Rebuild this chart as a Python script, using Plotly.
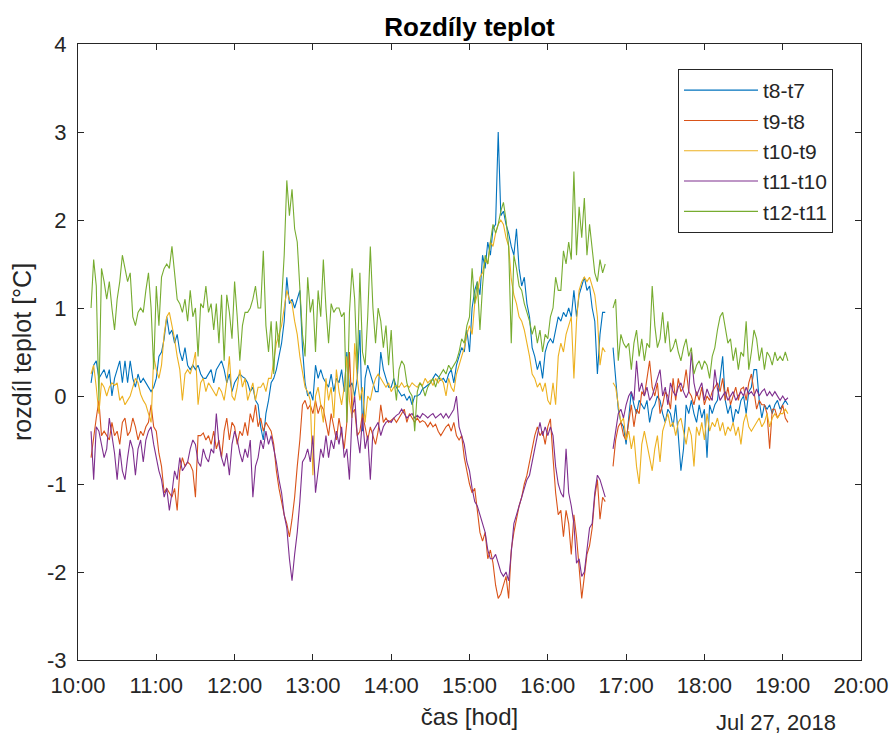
import plotly.graph_objects as go
import pandas as pd

# ---------------- data (minutes after 10:00, 2-minute sampling) ----------------
day = "2018-07-27"
minutes_a = list(range(10, 405, 2))    # 10:10 .. 16:44
minutes_b = list(range(410, 545, 2))   # 16:50 .. 19:04
gap_minute = 407                       # logger outage (no data)

series_names = ["t8-t7", "t9-t8", "t10-t9", "t11-t10", "t12-t11"]
series_colors = ["#0072BD", "#D95319", "#EDB120", "#7E2F8E", "#77AC30"]

t8_t7_a = [0.15, 0.35, 0.4, 0.2, 0.25, 0.3, 0.2, 0.3, 0.0, 0.2,
           0.3, 0.4, 0.15, 0.4, 0.15, 0.4, 0.2, 0.1, 0.25, 0.15,
           0.2, 0.15, 0.1, 0.05, 0.1, 0.2, 0.45, 0.5, 0.65, 0.9,
           0.7, 0.75, 0.6, 0.7, 0.5, 0.4, 0.55, 0.35, 0.3, 0.35,
           0.3, 0.35, 0.25, 0.2, 0.2, 0.25, 0.3, 0.15, 0.3, 0.35,
           0.4, 0.3, 0.15, 0.25, 0.05, 0.15, 0.2, 0.25, 0.22, 0.2,
           0.15, 0.05, 0.1, -0.05, -0.1, -0.35, -0.5, -0.2, -0.05, 0.15,
           0.2, 0.3, 0.45, 0.6, 0.85, 1.35, 1.05, 1.1, 1.0, 1.1,
           1.2, 0.55, 0.15, 0.0, 0.05, -0.05, 0.35, 0.2, 0.3, 0.2,
           0.15, 0.1, 0.25, 0.05, 0.2, 0.15, 0.3, 0.05, 0.5, 0.1,
           0.15, 0.0, 0.2, 0.75, -0.4, 0.2, 0.35, 0.25, 0.15, 0.05,
           0.05, 0.5, 0.3, 0.2, 0.1, 0.1, 0.2, 0.1, 0.05, 0.0,
           0.02, -0.05, 0.0, -0.1, 0.0, 0.0, 0.02, 0.08, 0.1, 0.12,
           0.15, 0.2, 0.25, 0.22, 0.18, 0.2, 0.15, 0.25, 0.3, 0.15,
           0.35, 0.45, 0.55, 0.5, 0.75, 0.5, 1.0, 1.2, 1.3, 1.15,
           1.6, 1.45, 1.75, 1.6, 1.9, 1.95, 3.0, 2.05, 2.1, 1.95,
           1.85, 1.7, 1.6, 1.9, 1.45, 1.25, 1.35, 1.05, 0.9, 0.55,
           0.45, 0.3, 0.4, 0.2, 0.5, 0.6, 0.65, 0.6, 0.75, 0.9,
           0.85, 0.95, 0.9, 1.0, 0.9, 1.2, 0.9, 1.15, 1.25, 1.35,
           1.2, 1.25, 1.0, 0.85, 0.25, 0.7, 0.95, 0.95]
t8_t7_b = [0.55, 0.2, -0.15, -0.3, -0.35, -0.55, -0.25, 0.05, -0.1, -0.2,
           -0.05, -0.1, -0.15, -0.05, -0.3, -0.15, -0.1, 0.0, -0.05, -0.2,
           -0.3, -0.15, -0.2, -0.35, -0.1, -0.45, -0.85, -0.6, -0.1, -0.2,
           -0.05, -0.2, -0.3, -0.1, -0.25, -0.15, -0.7, -0.1, -0.2, -0.1,
           -0.05, 0.2, 0.45, -0.05, -0.2, -0.1, -0.3, -0.15, -0.2, -0.05,
           0.0, -0.2, 0.05, 0.1, 0.3, 0.3, -0.05, -0.25, -0.1, -0.15,
           -0.1, -0.2, -0.1, -0.05, -0.15, -0.1, -0.05, -0.1]

t9_t8_a = [-0.7, -0.45, -0.25, -0.05, -0.45, -0.4, -0.45, -0.5, -0.3, -0.45,
           -0.4, -0.55, -0.3, -0.25, -0.45, -0.4, -0.25, -0.35, -0.5, -0.4,
           -0.45, -0.35, -0.3, -0.1, -0.35, -0.4, -0.65, -0.8, -1.1, -1.05,
           -1.1, -1.15, -1.05, -1.3, -0.85, -0.7, -0.8, -0.75, -0.78, -0.85,
           -1.15, -0.45, -0.45, -0.42, -0.5, -0.45, -0.55, -0.4, -0.6, -0.5,
           -0.7, -0.4, -0.25, -0.5, -0.3, -0.35, -0.55, -0.4, -0.45, -0.3,
           -0.45, -0.2, -0.3, -0.1, -0.35, -0.25, -0.4, -0.3, -0.35, -0.4,
           -0.55, -0.85, -1.05, -1.2, -1.35, -1.45, -1.6, -1.4, -1.15, -0.8,
           -0.5, -0.1, -0.05, -0.15, -0.1, -0.2, -0.05, -0.2, -0.1, -0.15,
           -0.3, -0.45, -0.2, -0.35, -0.5, -0.25, -0.45, -0.6, -0.3, 0.5,
           -0.2, -0.15, -0.45, -0.4, -0.2, -0.35, -0.5, -0.35, -0.45, -0.55,
           -0.4, -0.1, -0.3, -0.25, -0.3, -0.28, -0.25, -0.3, -0.25, -0.2,
           -0.15, -0.3, -0.2, -0.25, -0.3, -0.25, -0.3, -0.28, -0.3, -0.35,
           -0.3, -0.35, -0.32, -0.4, -0.45, -0.4, -0.35, -0.32, -0.4, -0.3,
           -0.45, -0.5, -0.45, -0.7, -0.85, -1.0, -1.1, -1.05, -1.3, -1.55,
           -1.65, -1.55, -1.85, -1.75, -1.9, -2.15, -2.3, -2.25, -2.15, -2.05,
           -2.3, -1.75, -1.55, -1.4, -1.25, -1.15, -1.0, -0.9, -0.75, -0.6,
           -0.45, -0.35, -0.45, -0.4, -0.55, -0.35, -0.26, -0.7, -1.1, -1.35,
           -1.3, -1.6, -1.3, -1.45, -1.8, -1.35, -1.6, -1.95, -2.3, -2.05,
           -1.8, -1.7, -1.5, -1.15, -0.95, -1.4, -1.15, -1.2]
t9_t8_b = [-0.8, -0.5, -0.35, -0.3, -0.45, -0.5, -0.3, -0.1, -0.35, -0.15,
           -0.2, 0.05, 0.0, 0.2, 0.4, 0.1, 0.0, 0.15, -0.2, -0.1,
           0.05, 0.0, -0.15, 0.2, -0.05, 0.2, 0.05, 0.1, 0.3, 0.05,
           0.0, -0.1, 0.05, -0.05, 0.1, -0.1, 0.0, -0.05, 0.05, 0.1,
           0.15, 0.05, 0.2, -0.05, 0.1, -0.1, 0.0, 0.1, -0.05, 0.08,
           0.1, -0.05, 0.15, 0.25, 0.05, -0.15, -0.05, -0.1, -0.1, -0.2,
           -0.6, -0.15, -0.15, -0.25, -0.2, -0.1, -0.25, -0.3]

t10_t9_a = [0.25, 0.35, 0.1, -0.2, 0.15, 0.1, 0.0, 0.1, 0.15, 0.12,
            0.15, -0.05, 0.0, -0.1, -0.05, 0.0, 0.1, 0.2, 0.15, 0.02,
            -0.05, -0.1, -0.2, -0.3, 0.45, 0.3, 0.2, 0.35, 0.7, 0.9,
            0.95, 0.8, 0.65, 0.45, 0.3, -0.05, 0.25, 0.3, 0.25, 0.35,
            0.5, -0.1, 0.15, 0.2, 0.05, 0.15, 0.1, 0.05, 0.0, 0.1,
            0.05, -0.05, 0.15, 0.45, 0.0, -0.05, 0.1, 0.3, 0.1, 0.2,
            -0.05, 0.05, 0.15, -0.05, 0.1, 0.1, 0.15, 0.05, 0.2, 0.2,
            0.4, 0.6, 0.7, 0.8, 1.0, 1.2, 1.1, 1.05, 0.85, 0.7,
            0.45, 0.25, 0.1, 0.05, -0.05, -0.9, 0.0, 0.1, -0.1, -0.3,
            0.2, -0.05, 0.1, -0.25, 0.3, 0.05, -0.1, 0.1, 0.45, -0.05,
            -0.25, 0.6, 0.2, -0.05, 0.1, -0.3, 0.0, -0.05, 0.1, 0.2,
            0.25, 0.2, 0.15, 0.1, 0.15, 0.05, 0.1, 0.12, 0.1, 0.15,
            0.1, 0.12, 0.1, 0.15, 0.12, 0.1, 0.15, 0.12, 0.2, 0.15,
            0.18, 0.12, 0.2, 0.15, 0.2, 0.15, 0.0, 0.2, 0.1, 0.05,
            0.25, 0.35, 0.45, 0.55, 0.7, 0.8, 0.7, 1.05, 1.15, 1.35,
            1.4, 1.55, 1.5, 1.75, 1.7, 1.85, 1.95, 2.0, 1.95, 1.8,
            1.7, 1.33, 1.15, 1.05, 0.9, 0.85, 0.75, 0.6, 0.45, 0.25,
            0.2, 0.1, 0.15, 0.05, 0.15, -0.05, -0.1, 0.15, -0.1, 0.45,
            0.6, 0.5, 0.7, 0.8, 0.9, 0.2, 0.85, 1.2, 1.3, 1.35,
            1.3, 1.35, 1.25, 1.15, 0.9, 0.35, 0.55, 0.5]
t10_t9_b = [0.15, 0.1, -0.1, -0.3, -0.25, -0.5, -0.4, -0.6, -0.45, -0.8,
            -1.0, -0.55, -0.4, -0.55, -0.7, -0.85, -0.6, -0.45, -0.75, -0.4,
            -0.3, -0.2, -0.35, -0.3, -0.45, -0.3, -0.25, -0.4, -0.55, -0.35,
            -0.45, -0.8, -0.35, -0.45, -0.3, -0.5, -0.2, -0.4, -0.3, -0.35,
            -0.25, -0.4, -0.3, -0.45, -0.35, -0.4, -0.3, -0.45, -0.35, -0.55,
            -0.3, -0.2, -0.35, -0.4, -0.35, -0.3, -0.25, -0.35, -0.3, -0.2,
            -0.35, -0.25, -0.2, -0.25, -0.2, -0.2, -0.15, -0.2]

t11_t10_a = [-0.4, -0.95, -0.35, -0.4, -0.55, -0.7, -0.6, -0.25, -0.45, -0.65,
             -0.95, -0.6, -0.85, -0.95, -0.7, -0.5, -0.6, -0.9, -0.6, -0.5,
             -0.75, -0.5, -0.4, -0.35, -0.55, -0.7, -0.85, -0.95, -1.15, -1.05,
             -1.3, -1.1, -0.85, -0.95, -0.7, -0.85, -0.8, -0.75, -0.6, -0.5,
             -0.55, -0.75, -0.8, -0.6, -0.7, -0.75, -0.6, -0.65, -0.2, -0.55,
             -0.7, -0.8, -0.65, -0.9, -0.55, -0.4, -0.5, -0.65, -0.75, -0.6,
             -0.7, -0.5, -1.15, -0.8, -0.7, -0.5, -0.6, -0.4, -0.55, -0.45,
             -0.6, -0.75, -0.95, -1.1, -1.35, -1.5, -1.85, -2.1, -1.8, -1.55,
             -1.2, -0.75, -0.7, -0.6, -0.75, -0.45, -1.1, -0.85, -0.6, -0.7,
             -0.45, -0.7, -0.5, -0.6, -0.4, -0.55, -0.35, -0.7, -0.6, -0.95,
             -0.2, 0.0, -0.45, -0.65, -0.25, -0.6, -0.45, -0.95, -0.4, -0.35,
             -0.3, -0.45, -0.35, -0.3, -0.28, -0.3, -0.25, -0.22, -0.2, -0.15,
             -0.2, -0.25, -0.22, -0.2, -0.25, -0.22, -0.25, -0.2, -0.22, -0.25,
             -0.22, -0.2, -0.25, -0.22, -0.2, -0.25, -0.2, -0.25, -0.2, -0.15,
             0.0, -0.35, -0.45, -0.55, -0.75, -0.85, -1.05, -1.2, -1.25, -1.35,
             -1.45, -1.55, -1.75, -1.85, -1.85, -1.8, -1.9, -2.0, -2.05, -2.0,
             -2.1, -1.75, -1.45, -1.35, -1.25, -1.15, -1.05, -0.95, -0.9, -0.75,
             -0.6, -0.45, -0.3, -0.45, -0.35, -0.45, -0.35, -0.45, -0.8, -1.0,
             -1.1, -1.15, -0.6, -1.1, -1.25, -1.45, -1.9, -1.85, -2.05, -2.0,
             -1.75, -1.5, -1.45, -1.1, -0.9, -0.95, -1.05, -1.15]
t11_t10_b = [-0.6, -0.4, -0.2, -0.15, -0.25, -0.1, 0.0, 0.05, -0.05, 0.4,
             0.05, 0.15, 0.0, 0.1, -0.05, 0.0, 0.1, 0.2, 0.3, 0.0,
             0.1, -0.1, 0.15, 0.05, 0.0, 0.1, 0.15, 0.05, -0.02, 0.05,
             0.5, 0.15, 0.0, 0.08, 0.15, -0.05, 0.08, 0.0, -0.05, 0.3,
             0.08, -0.05, 0.0, 0.05, -0.05, 0.0, 0.05, -0.05, 0.0, 0.05,
             0.0, 0.1, 0.02, 0.05, 0.0, 0.08, 0.0, 0.05, 0.08, 0.0,
             0.05, 0.0, 0.05, 0.0, -0.05, 0.0, -0.05, -0.02]

t12_t11_a = [1.0, 1.55, 1.25, -0.05, 1.45, 1.3, 1.1, 1.3, 1.0, 0.75,
             1.1, 1.3, 1.6, 1.45, 1.3, 1.4, 0.9, 0.8, 0.95, 1.0,
             0.95, 1.2, 1.4, 1.0, 0.3, 1.25, 0.8, 1.35, 1.45, 1.5,
             1.45, 1.7, 1.35, 1.1, 1.05, 0.95, 1.1, 0.85, 1.2, 0.9,
             1.0, 0.45, 1.05, 1.0, 1.25, 0.95, 1.05, 0.75, 1.05, 0.6,
             1.15, 0.4, 1.15, 0.95, 0.65, 1.3, 0.9, 0.4, 0.8, 0.95,
             0.95, 1.0, 1.1, 1.25, 1.0, 1.0, 1.65, 0.8, 0.5, 0.85,
             0.25, 0.85, 0.55, 1.15, 1.6, 2.45, 2.05, 2.35, 1.9, 1.75,
             1.2, 0.7, 0.45, 1.35, 0.95, 1.1, 0.5, 1.2, 0.9, 1.55,
             1.0, 0.6, 1.05, 0.95, 1.0, 1.0, 0.9, 0.95, -0.3, 0.95,
             1.45, 1.1, 0.3, 1.4, 0.5, 0.35, 0.9, 1.7, 1.0, 0.6,
             1.0, 0.85, 0.55, 0.8, 0.35, 0.75, 0.2, -0.05, 0.3, 0.4,
             0.35, 0.15, 0.05, 0.0, -0.4, 0.05, 0.15, 0.1, 0.0, 0.1,
             0.15, 0.2, 0.1, 0.2, 0.25, 0.3, 0.25, 0.35, 0.3, 0.35,
             0.4, 0.5, 0.65, 0.6, 0.8, 0.9, 1.45, 1.05, 1.3, 0.75,
             1.25, 1.6, 1.5, 1.75, 1.95, 1.85, 1.95, 2.1, 2.2, 2.0,
             1.7, 0.6, 1.6, 1.45, 1.25, 1.2, 1.05, 0.95, 0.85, 0.7,
             0.8, 0.6, 0.75, 0.5, 0.7, 0.65, 0.9, 1.0, 1.35, 1.2,
             1.2, 1.65, 1.5, 1.75, 1.55, 2.55, 1.6, 2.15, 1.8, 2.25,
             1.6, 1.95, 1.65, 1.4, 1.3, 1.55, 1.4, 1.5]
t12_t11_b = [1.0, 1.1, 0.4, 0.7, 0.6, 0.55, 0.6, 0.3, 0.6, 0.75,
             0.45, 0.65, 0.4, 0.6, 0.55, 1.25, 0.8, 0.55, 0.65, 0.95,
             0.6, 0.85, 0.5, 0.55, 0.65, 0.5, 0.4, 0.55, 0.65, 0.45,
             0.55, 0.25, 0.35, 0.4, 0.3, 0.4, 0.35, 0.2, 0.45, 0.55,
             0.75, 0.9, 0.95, 0.75, 0.6, 0.65, 0.4, 0.55, 0.3, 0.5,
             0.45, 0.85, 0.3, 0.5, 0.75, 0.65, 0.4, 0.55, 0.3, 0.5,
             0.45, 0.35, 0.5, 0.4, 0.45, 0.4, 0.5, 0.4]

x_ticks = ["10:00", "11:00", "12:00", "13:00", "14:00", "15:00",
           "16:00", "17:00", "18:00", "19:00", "20:00"]
y_ticks = [4, 3, 2, 1, 0, -1, -2, -3]

# ---------------- figure ----------------
base = pd.Timestamp(day + " 10:00")
minutes = minutes_a + [gap_minute] + minutes_b
times = [base + pd.Timedelta(minutes=m) for m in minutes]

series_a = [t8_t7_a, t9_t8_a, t10_t9_a, t11_t10_a, t12_t11_a]
series_b = [t8_t7_b, t9_t8_b, t10_t9_b, t11_t10_b, t12_t11_b]

FONT = "Liberation Sans, Arial, Helvetica, sans-serif"
AX = "#262626"

fig = go.Figure()
for name, color, a, b in zip(series_names, series_colors, series_a, series_b):
    fig.add_trace(go.Scatter(
        x=times, y=a + [None] + b, name=name, mode="lines",
        line=dict(color=color, width=1.1), connectgaps=False,
    ))

tickvals = [pd.Timestamp(day + " " + t) for t in x_ticks]

fig.update_layout(
    width=893, height=738,
    margin=dict(l=78, r=32, t=44, b=78, autoexpand=False),
    paper_bgcolor="white", plot_bgcolor="white",
    font=dict(family=FONT, color=AX),
    title=dict(text="<b>Rozdíly teplot</b>", x=0.5, xref="paper",
               y=1 - 27 / 738, yref="container", xanchor="center", yanchor="middle",
               font=dict(family=FONT, size=26, color="black")),
    xaxis=dict(range=[tickvals[0], tickvals[-1]], tickvals=tickvals, ticktext=x_ticks,
               automargin=False,
               showgrid=False, zeroline=False, showline=True, linecolor=AX, linewidth=1,
               mirror="ticks", ticks="inside", ticklen=6, tickcolor=AX, tickwidth=1,
               tickfont=dict(size=22, color=AX), ticklabelstandoff=6,
               title=dict(text="čas [hod]", font=dict(size=24, color=AX), standoff=10)),
    yaxis=dict(range=[-3, 4], tickvals=y_ticks, ticktext=[str(v) for v in y_ticks],
               automargin=False,
               showgrid=False, zeroline=False, showline=True, linecolor=AX, linewidth=1,
               mirror="ticks", ticks="inside", ticklen=6, tickcolor=AX, tickwidth=1,
               tickfont=dict(size=22, color=AX), ticklabelstandoff=6,
               title=dict(text="rozdíl teplot [°C]", font=dict(size=25, color=AX), standoff=8)),
    legend=dict(x=(678 - 78) / 783, y=(660 - 69) / 616, xanchor="left", yanchor="top",
                bgcolor="white", bordercolor=AX, borderwidth=1,
                font=dict(size=21, color=AX), itemwidth=74),
    showlegend=True,
    annotations=[dict(text="Jul 27, 2018", xref="paper", yref="paper",
                      x=(838 - 78) / 783, y=(660 - 722) / 616,
                      xanchor="right", yanchor="middle", showarrow=False,
                      font=dict(size=22, color=AX))],
)

fig.write_html("out.html")
